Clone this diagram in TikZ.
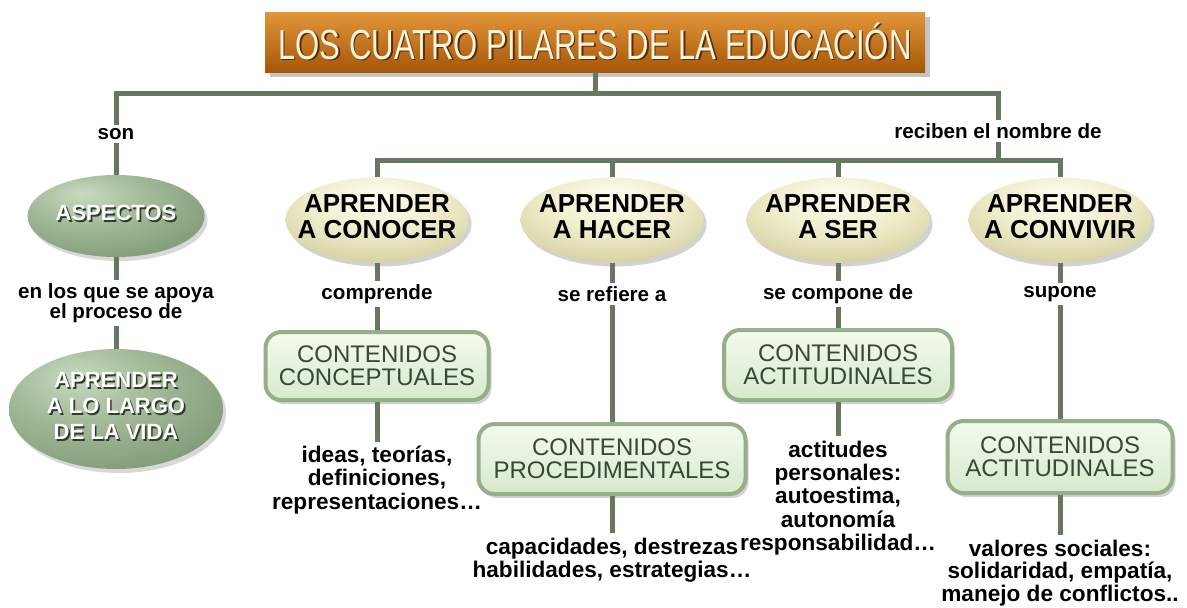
\documentclass[tikz,border=0pt]{standalone}
\usepackage{fontspec}
\setmainfont{Liberation Sans}
\newfontfamily\titlefont[FakeStretch=0.74]{Liberation Sans}
\usetikzlibrary{shapes.geometric,shadows}

\definecolor{linkgreen}{RGB}{102,120,94}
\definecolor{titletop}{RGB}{226,150,58}
\definecolor{titlemid}{RGB}{204,112,20}
\definecolor{titlebot}{RGB}{166,86,8}
\definecolor{titletext}{RGB}{255,246,226}
\definecolor{titleshade}{RGB}{90,45,5}
\definecolor{yhi}{RGB}{255,255,242}
\definecolor{ymid}{RGB}{240,237,204}
\definecolor{ylo}{RGB}{208,202,152}
\definecolor{yedge}{RGB}{156,150,96}
\definecolor{ghi}{RGB}{200,218,192}
\definecolor{gmid}{RGB}{160,184,150}
\definecolor{glo}{RGB}{122,148,112}
\definecolor{gedge}{RGB}{92,116,86}
\definecolor{embshade}{RGB}{50,60,45}
\definecolor{boxtop}{RGB}{244,251,238}
\definecolor{boxbot}{RGB}{214,233,204}
\definecolor{boxedge}{RGB}{150,174,138}
\definecolor{boxtext}{RGB}{58,70,54}

\pgfdeclareradialshading{yellowball}{\pgfpoint{0bp}{14bp}}{color(0bp)=(yhi); color(18bp)=(ymid); color(38bp)=(ylo); color(58bp)=(yedge); color(80bp)=(yedge)}
\pgfdeclareradialshading{greenball}{\pgfpoint{-10bp}{14bp}}{color(0bp)=(ghi); color(18bp)=(gmid); color(40bp)=(glo); color(60bp)=(gedge); color(80bp)=(gedge)}

\newcommand\ovaltext[1]{\makebox[0pt]{\begin{tabular}{@{}c@{}}#1\end{tabular}}}
\newcommand\embossed[2]{\makebox[0pt][l]{\kern0.8pt\raisebox{-0.8pt}{\textcolor{#1}{#2}}}#2}

\tikzset{
  link/.style={draw=linkgreen, line width=2.5pt},
  banner/.style={rectangle, minimum width=330pt, minimum height=30pt, top color=titletop, middle color=titlemid, bottom color=titlebot, text=titletext, font=\titlefont\fontsize{21}{21}\selectfont, drop shadow={shadow xshift=2.5pt, shadow yshift=-2.5pt, opacity=0.45}},
  pillar/.style={ellipse, inner sep=0pt, minimum width=91.5pt, minimum height=42.5pt, shade, shading=yellowball, font=\fontsize{13}{13.3}\selectfont\bfseries, drop shadow={shadow xshift=1.5pt, shadow yshift=-2pt, opacity=0.35}},
  greenoval/.style={ellipse, inner sep=0pt, shade, shading=greenball, text=white, font=\fontsize{11}{13}\selectfont\bfseries, drop shadow={shadow xshift=1.5pt, shadow yshift=-2pt, opacity=0.3}},
  contentbox/.style={rectangle, rounded corners=8pt, draw=boxedge, line width=2pt, top color=boxtop, bottom color=boxbot, text=boxtext, align=center, inner sep=2pt, font=\fontsize{12}{11.6}\selectfont, drop shadow={shadow xshift=1.5pt, shadow yshift=-2pt, opacity=0.35}},
  linkword/.style={fill=white, inner sep=1.5pt, align=center, font=\fontsize{10.3}{10}\selectfont\bfseries},
  detail/.style={inner sep=2pt, align=center, font=\fontsize{11.3}{11.7}\selectfont\bfseries}
}

\begin{document}
\begin{tikzpicture}[x=0.5pt,y=-0.5pt]
\useasboundingbox[fill=white] (0,0) rectangle (1187,607);

\node[banner] (title) at (595,42) {\embossed{titleshade}{LOS CUATRO PILARES DE LA EDUCACIÓN}};
\coordinate (hubL) at (116,93);
\coordinate (hubC) at (595,93);
\coordinate (hubR) at (998,93);
\coordinate (barR) at (998,160);

% left column
\node[linkword] (son) at (116,134) {son};
\node[greenoval, minimum width=88.5pt, minimum height=41pt] (aspectos) at (116,216) {\ovaltext{\embossed{embshade}{\ovaltext{ASPECTOS}}}};
\node[linkword] (apoya) at (116,303) {en los que se apoya\\el proceso de};
\node[greenoval, minimum width=107pt, minimum height=60pt] (vida) at (116,409) {\embossed{embshade}{\ovaltext{APRENDER\\A LO LARGO\\DE LA VIDA}}};
\node[linkword] (reciben) at (998,131) {reciben el nombre de};

% the four pillars
\node[pillar] (conocer) at (377,220) {\ovaltext{APRENDER\\A CONOCER}};
\node[pillar] (hacer) at (612,220) {\ovaltext{APRENDER\\A HACER}};
\node[pillar] (ser) at (838,220) {\ovaltext{APRENDER\\A SER}};
\node[pillar] (convivir) at (1060,220) {\ovaltext{APRENDER\\A CONVIVIR}};

\node[linkword] (comprende) at (377,294) {comprende};
\node[linkword] (refiere) at (612,294) {se refiere a};
\node[linkword] (compone) at (838,294) {se compone de};
\node[linkword] (supone) at (1060,294) {supone};

\node[contentbox, minimum width=111.5pt, minimum height=34pt] (concep) at (377,366) {CONTENIDOS\\CONCEPTUALES};
\node[contentbox, minimum width=133.5pt, minimum height=35pt] (proced) at (612,459) {CONTENIDOS\\PROCEDIMENTALES};
\node[contentbox, minimum width=114pt, minimum height=35pt] (actser) at (838,365) {CONTENIDOS\\ACTITUDINALES};
\node[contentbox, minimum width=112.5pt, minimum height=36pt] (actconv) at (1060,457) {CONTENIDOS\\ACTITUDINALES};

\node[detail] (ideas) at (377,480) {ideas, teorías,\\definiciones,\\representaciones…};
\node[detail] (destrezas) at (612,560) {capacidades, destrezas\\habilidades, estrategias…};
\node[detail] (actitudes) at (838,498) {actitudes\\personales:\\autoestima,\\autonomía\\responsabilidad…};
\node[detail, font=\fontsize{11.3}{11.3}\selectfont\bfseries] (valores) at (1060,573) {valores sociales:\\solidaridad, empatía,\\manejo de conflictos..};

% connectors
\draw[link] (title) -- (hubC);
\draw[link] (aspectos) -- (son) -- (hubL) -- (hubR) -- (reciben) -- (barR);
\draw[link] (aspectos) -- (apoya) -- (vida);
\draw[link] (conocer) -- (conocer |- barR) -- (convivir |- barR) -- (convivir);
\draw[link] (hacer) -- (hacer |- barR);
\draw[link] (ser) -- (ser |- barR);
\draw[link] (conocer) -- (comprende) -- (concep) -- (ideas);
\draw[link] (hacer) -- (refiere) -- (proced) -- (destrezas);
\draw[link] (ser) -- (compone) -- (actser) -- (actitudes);
\draw[link] (convivir) -- (supone) -- (actconv) -- (valores);
\end{tikzpicture}
\end{document}
